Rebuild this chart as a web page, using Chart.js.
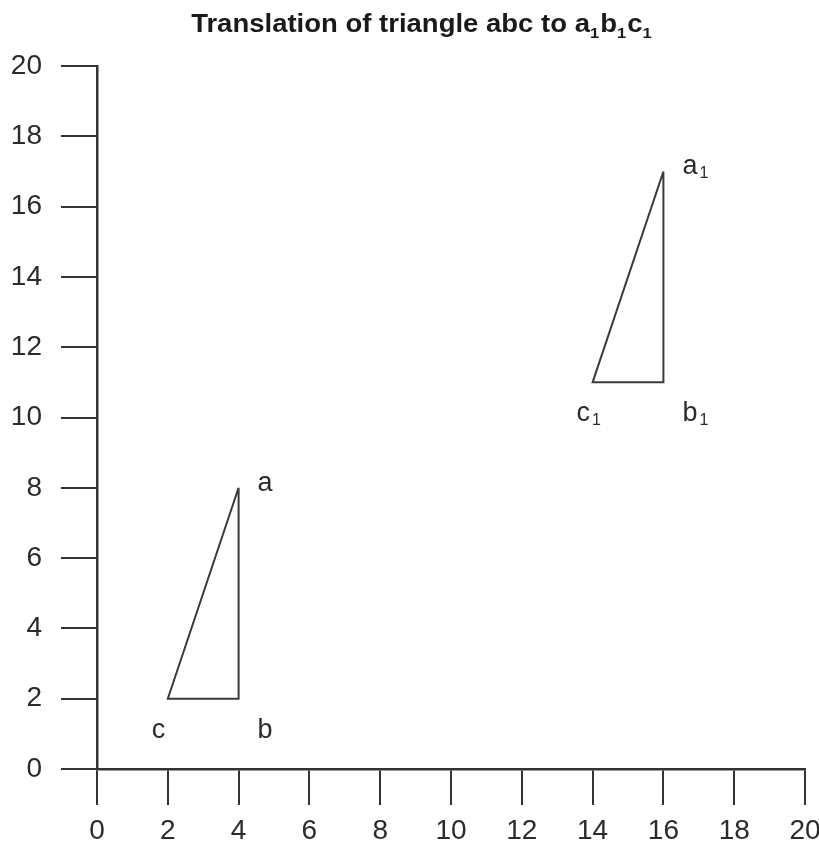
<!DOCTYPE html>
<html>
<head>
<meta charset="utf-8">
<script src="https://cdn.jsdelivr.net/npm/chart.js@4/dist/chart.umd.min.js"></script>
<style>
    body { margin: 0; background: #fff; }
    #wrap { width: 819px; height: 846px; }
</style>
</head>
<body>
<div id="wrap"><canvas id="chart"></canvas></div>
<script>
// triangle abc
const abcX = [4, 4, 2];
const abcY = [8, 2, 2];
const abcNames = ['a', 'b', 'c'];

// translated triangle a1b1c1
const a1b1c1X = [16, 16, 14];
const a1b1c1Y = [17, 11, 11];
const a1b1c1Names = ['a', 'b', 'c'];
const a1b1c1Sub = '1';

const xTicks = [0, 2, 4, 6, 8, 10, 12, 14, 16, 18, 20];
const yTicks = [0, 2, 4, 6, 8, 10, 12, 14, 16, 18, 20];

const titleParts = [
    { text: 'Translation of triangle abc to a' },
    { text: '1', sub: true },
    { text: 'b' },
    { text: '1', sub: true },
    { text: 'c' },
    { text: '1', sub: true },
];

const INK = '#2b2b2b';
const FONT = '"Liberation Sans", Arial, Helvetica, sans-serif';

function toPoints(xs, ys) {
    const pts = xs.map((x, i) => ({ x: x, y: ys[i] }));
    pts.push(pts[0]); // close the triangle
    return pts;
}

// offsets of the vertex letters, by vertex role (apex, right angle, acute)
const labelOffsets = [[19, 3], [19, 39], [-16, 39]];

const vertexLabels = {
    id: 'vertexLabels',
    afterDatasetsDraw(chart) {
        const ctx = chart.ctx;
        const sx = chart.scales.x;
        const sy = chart.scales.y;
        const sets = [
            { xs: abcX, ys: abcY, names: abcNames, sub: '' },
            { xs: a1b1c1X, ys: a1b1c1Y, names: a1b1c1Names, sub: a1b1c1Sub },
        ];
        ctx.save();
        ctx.fillStyle = INK;
        ctx.textBaseline = 'alphabetic';
        ctx.textAlign = 'left';
        sets.forEach(s => {
            s.xs.forEach((x, i) => {
                const px = sx.getPixelForValue(x) + labelOffsets[i][0];
                const py = sy.getPixelForValue(s.ys[i]) + labelOffsets[i][1];
                ctx.font = '27px ' + FONT;
                ctx.fillText(s.names[i], px, py);
                if (s.sub) {
                    const w = ctx.measureText(s.names[i]).width;
                    ctx.font = '16px ' + FONT;
                    ctx.fillText(s.sub, px + w + 2, py + 4);
                }
            });
        });
        ctx.restore();
    }
};

const subTitle = {
    id: 'subTitle',
    afterDraw(chart) {
        const ctx = chart.ctx;
        const stretch = 1.1;
        ctx.save();
        ctx.fillStyle = '#1a1a1a';
        ctx.textBaseline = 'alphabetic';
        ctx.textAlign = 'left';
        const big = 'bold 25px ' + FONT;
        const small = 'bold 15px ' + FONT;
        let total = 0;
        titleParts.forEach(p => {
            ctx.font = p.sub ? small : big;
            p.w = ctx.measureText(p.text).width + (p.sub ? 1 : 0);
            total += p.w;
        });
        ctx.translate(422 - total * stretch / 2, 0);
        ctx.scale(stretch, 1);
        let x = 0;
        titleParts.forEach(p => {
            ctx.font = p.sub ? small : big;
            ctx.fillText(p.text, x, p.sub ? 38 : 32);
            x += p.w;
        });
        ctx.restore();
    }
};

function lineSet(xs, ys) {
    return {
        data: toPoints(xs, ys),
        showLine: true,
        borderColor: '#3a3a3a',
        borderWidth: 2,
        pointRadius: 0,
        fill: false,
        tension: 0,
    };
}

function axis(ticks, isX) {
    return {
        type: 'linear',
        min: ticks[0],
        max: ticks[ticks.length - 1],
        afterBuildTicks: scale => {
            scale.ticks = ticks.map(v => ({ value: v }));
        },
        afterFit: scale => {
            if (isX) scale.height = 77;
            else scale.width = 97;
            scale.paddingLeft = 0;
            scale.paddingRight = 0;
            scale.paddingTop = 0;
            scale.paddingBottom = 0;
        },
        grid: {
            drawOnChartArea: false,
            drawTicks: true,
            tickLength: 36,
            lineWidth: 2,
            color: '#333',
        },
        border: { display: true, color: '#333', width: 2.5 },
        ticks: {
            color: INK,
            padding: isX ? 9 : 19,
            maxRotation: 0,
            autoSkip: false,
            font: { family: FONT, size: 28 },
        },
    };
}

const ctx = document.getElementById('chart').getContext('2d');
new Chart(ctx, {
    type: 'scatter',
    data: {
        datasets: [lineSet(abcX, abcY), lineSet(a1b1c1X, a1b1c1Y)]
    },
    options: {
        responsive: true,
        maintainAspectRatio: false,
        animation: false,
        layout: { padding: { top: 66, right: 14, bottom: 0, left: 0 } },
        plugins: {
            legend: { display: false },
            tooltip: { enabled: false },
            title: { display: false },
        },
        scales: {
            x: axis(xTicks, true),
            y: axis(yTicks, false),
        }
    },
    plugins: [vertexLabels, subTitle]
});
</script>
</body>
</html>
